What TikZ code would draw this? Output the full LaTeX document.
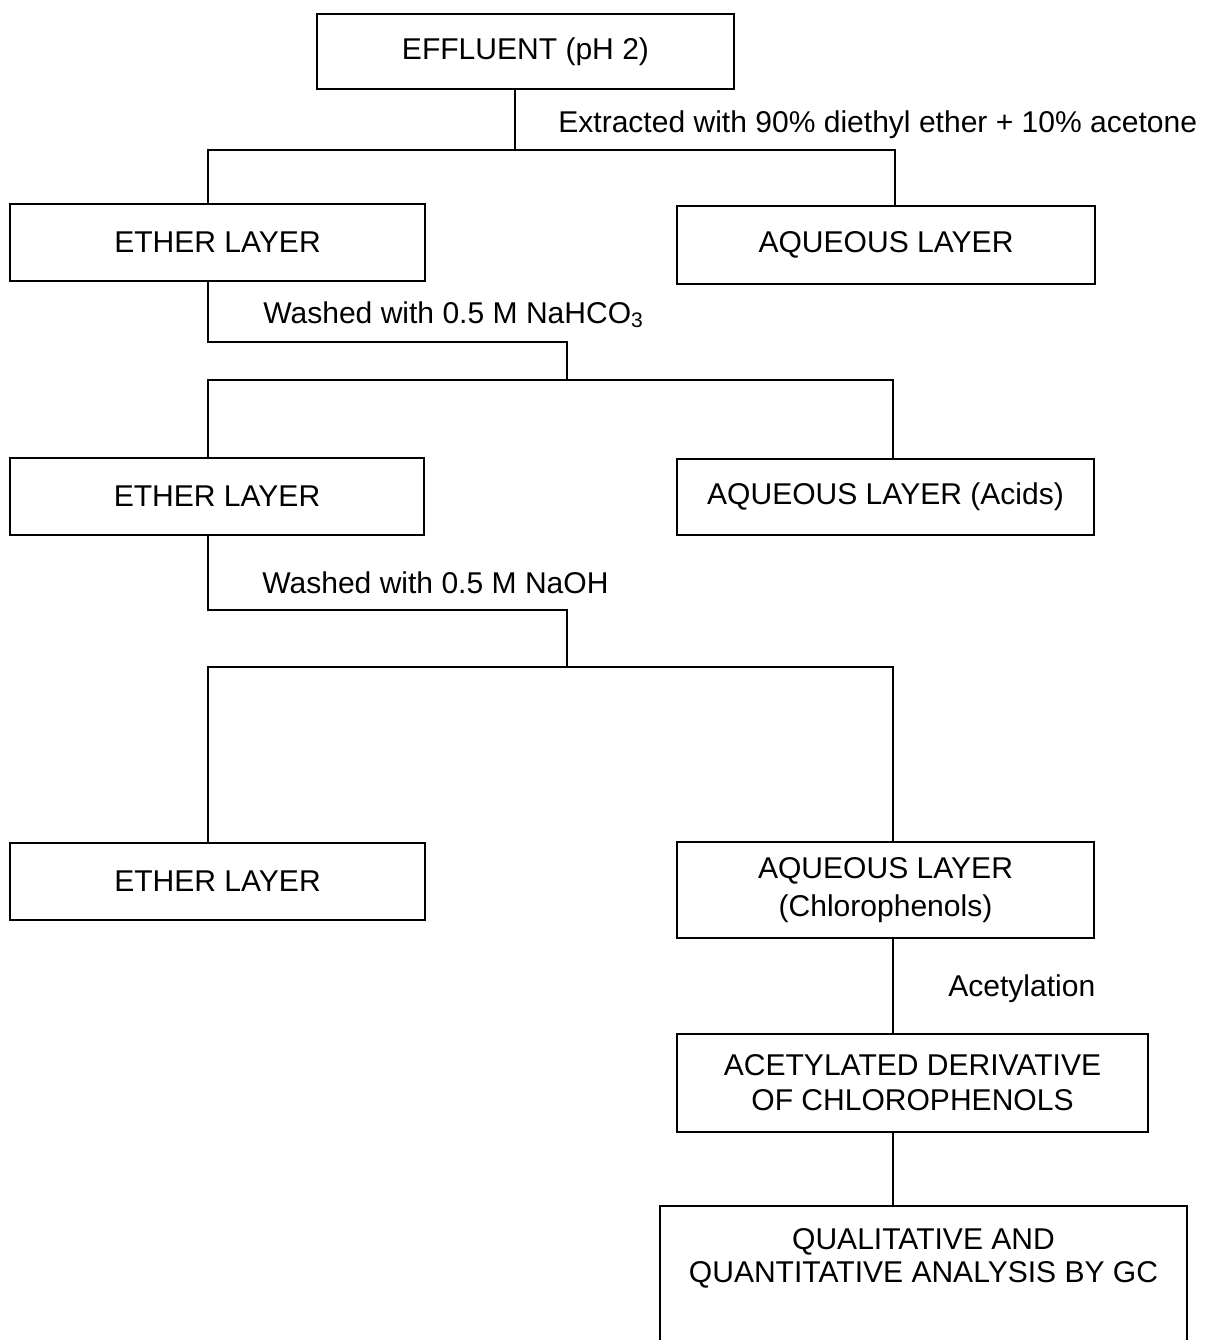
\documentclass[tikz,border=0pt]{standalone}
\usepackage{fontspec}
\setmainfont{Liberation Sans}

\begin{document}
\begin{tikzpicture}[x=0.02cm, y=-0.02cm,
  every node/.style={font=\fontsize{17.1}{20}\selectfont},
  box/.style={draw, line width=1.1pt, align=center, inner sep=0pt, minimum width=8.34cm},
  link/.style={draw, line width=0.8pt},
  lbl/.style={anchor=base west, inner sep=0pt}]
\useasboundingbox (0,0) rectangle (1205,1340);

\node[box, minimum height=1.5cm] (effl) at (525.5,51.5) {EFFLUENT (pH 2)};

\node[box, minimum width=8.3cm, minimum height=1.54cm] (ether1) at (217.5,242.5) {ETHER LAYER};
\node[box, minimum width=8.36cm, minimum height=1.56cm] (aq1) at (886,245) {AQUEOUS LAYER};

\node[box, minimum width=8.28cm, minimum height=1.54cm] (ether2) at (217,496.5) {ETHER LAYER};
\node[box, minimum height=1.52cm] (aq2) at (885.5,497) {AQUEOUS LAYER (Acids)};

\node[box, minimum width=8.3cm, minimum height=1.54cm] (ether3) at (217.5,881.5) {ETHER LAYER};
\node[box, minimum height=1.92cm, font=\fontsize{17.1}{21.6}\selectfont] (aq3) at (885.5,890) {AQUEOUS LAYER\\(Chlorophenols)};

\node[box, minimum width=9.42cm, minimum height=1.96cm] (acet) at (912.5,1083) {ACETYLATED DERIVATIVE\\OF CHLOROPHENOLS};
\node[box, minimum width=10.54cm, minimum height=3.3cm, font=\fontsize{17.1}{18.8}\selectfont] (qual) at (923.5,1288.5) {QUALITATIVE AND\\QUANTITATIVE ANALYSIS BY GC\\ \mbox{}\\ \mbox{}};

% first split
\coordinate (s1) at (515,150);
\coordinate (s1l) at (208,150);
\coordinate (s1r) at (895,150);
\path[link] (effl.south -| s1) -- (s1);
\path[link] (ether1.north -| s1l) -- (s1l) -- (s1r) -- (aq1.north -| s1r);
\node[lbl] (ext) at (558,132) {Extracted with 90\% diethyl ether + 10\% acetone};

% second split
\coordinate (w1) at (208,342);
\coordinate (w1r) at (567,342);
\coordinate (s2) at (567,380);
\coordinate (s2l) at (208,380);
\coordinate (s2r) at (893,380);
\path[link] (ether1.south -| w1) -- (w1) -- (w1r) -- (s2);
\path[link] (ether2.north -| s2l) -- (s2l) -- (s2r) -- (aq2.north -| s2r);
\node[lbl] (wash1) at (263,323) {Washed with 0.5 M NaHCO\textsubscript{3}};

% third split
\coordinate (w2) at (208,610);
\coordinate (w2r) at (567,610);
\coordinate (s3) at (567,667);
\coordinate (s3l) at (208,667);
\coordinate (s3r) at (893,667);
\path[link] (ether2.south -| w2) -- (w2) -- (w2r) -- (s3);
\path[link] (ether3.north -| s3l) -- (s3l) -- (s3r) -- (aq3.north -| s3r);
\node[lbl] (wash2) at (262,593) {Washed with 0.5 M NaOH};

% chlorophenols
\path[link] (aq3.south -| s3r) -- (acet.north -| s3r);
\node[lbl] (acetyl) at (948,996) {Acetylation};
\path[link] (acet.south -| s3r) -- (qual.north -| s3r);
\end{tikzpicture}
\end{document}
